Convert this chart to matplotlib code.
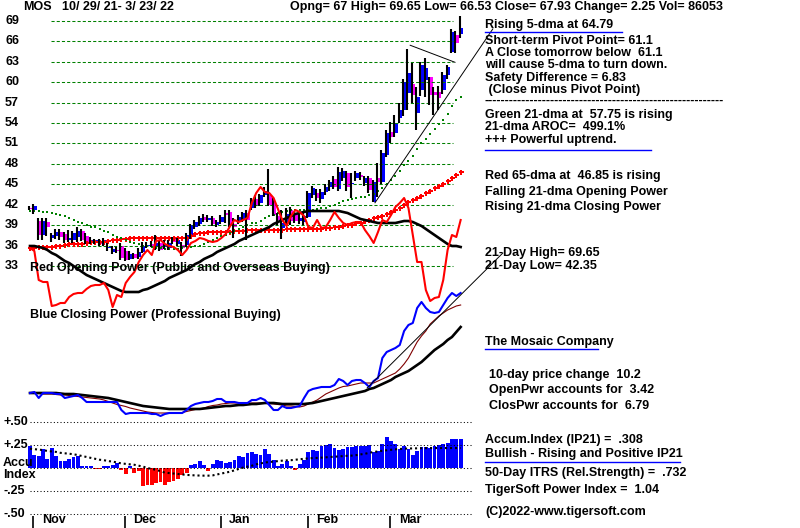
import matplotlib
matplotlib.use("Agg")
import matplotlib.pyplot as plt
import matplotlib.transforms as mtransforms
from matplotlib.lines import Line2D
import numpy as np

plt.rcParams['font.family'] = ['Liberation Sans', 'DejaVu Sans']
plt.rcParams['font.weight'] = 'bold'

# ---- daily bars 10/29/21 .. 3/23/22 (100 sessions) ----
opens = [41.6, 41.3, 39.7, 37.6, 39.5, 37.1, 37.4, 38.0, 37.7, 36.8,
         36.9, 37.3, 38.1, 37.5, 36.6, 36.7, 36.6, 36.4, 35.6, 35.1,
         35.4, 35.9, 35.3, 34.1, 34.8, 34.4, 35.1, 35.9, 36.3, 36.0,
         36.4, 35.8, 35.6, 37.0, 36.3, 36.1, 36.1, 37.3, 38.8, 39.2,
         40.2, 39.8, 40.1, 39.0, 39.5, 40.8, 41.0, 39.2, 39.6, 39.9,
         40.8, 41.5, 42.8, 42.2, 43.4, 43.4, 42.5, 40.3, 38.6, 39.5,
         41.3, 40.6, 39.6, 39.5, 40.2, 43.4, 43.8, 42.8, 43.9, 44.6,
         45.8, 44.3, 45.9, 46.7, 45.0, 46.0, 46.4, 45.2, 45.9, 42.4,
         45.9, 45.3, 49.3, 52.7, 52.5, 54.7, 55.9, 58.4, 59.7, 55.4,
         58.8, 60.3, 60.7, 58.5, 58.5, 58.8, 61.0, 64.4, 66.9, 67.0]
highs = [41.9, 42.1, 40.1, 40.1, 40.0, 37.9, 38.4, 38.5, 38.0, 38.3,
         38.2, 38.7, 38.4, 37.8, 37.3, 37.0, 37.0, 37.2, 36.4, 35.9,
         35.8, 36.4, 35.6, 35.2, 35.0, 35.6, 36.6, 36.6, 36.7, 37.6,
         36.7, 36.9, 36.8, 37.3, 37.1, 36.6, 37.8, 39.2, 39.8, 40.4,
         40.6, 40.5, 40.4, 39.8, 40.5, 41.2, 41.3, 40.0, 40.5, 41.0,
         41.2, 43.0, 43.5, 43.6, 44.6, 47.3, 43.0, 40.8, 41.2, 41.5,
         41.7, 41.0, 40.6, 40.8, 44.0, 44.8, 44.3, 44.3, 45.0, 45.6,
         46.3, 47.6, 47.4, 47.0, 46.6, 47.0, 46.8, 46.3, 46.3, 45.6,
         48.2, 50.0, 53.0, 54.1, 55.2, 56.9, 60.5, 64.8, 62.8, 59.3,
         63.0, 63.5, 60.8, 59.3, 59.4, 61.5, 62.5, 67.8, 67.5, 69.65]
lows = [41.2, 40.6, 36.9, 36.9, 37.5, 36.6, 37.0, 36.8, 36.4, 36.5,
        36.4, 36.5, 36.7, 36.2, 36.2, 36.3, 36.0, 35.9, 35.2, 34.8,
        34.9, 33.9, 33.7, 33.9, 34.0, 34.1, 34.9, 35.6, 35.8, 35.4,
        35.2, 35.5, 35.4, 36.2, 36.0, 34.5, 35.8, 37.0, 38.4, 38.9,
        39.5, 39.5, 38.9, 38.7, 39.2, 39.4, 38.8, 37.2, 39.2, 39.5,
        36.9, 41.2, 41.5, 41.9, 43.1, 41.8, 40.3, 39.0, 37.0, 39.2,
        39.0, 39.3, 39.2, 39.0, 40.0, 43.0, 42.6, 42.3, 43.5, 44.0,
        44.3, 44.0, 45.5, 44.1, 43.0, 45.5, 45.7, 44.8, 43.8, 42.35,
        43.1, 45.0, 49.0, 51.1, 52.0, 54.0, 55.0, 55.9, 56.9, 53.0,
        58.0, 57.8, 56.6, 55.2, 55.9, 58.3, 60.5, 64.3, 64.3, 66.53]
closes = [41.4, 41.8, 37.6, 39.6, 38.8, 37.6, 38.0, 37.3, 36.8, 37.2,
          37.8, 38.1, 36.9, 36.4, 36.9, 36.9, 36.3, 36.8, 35.8, 35.5,
          35.2, 34.2, 33.9, 34.8, 34.2, 35.1, 36.0, 36.1, 36.0, 36.4,
          35.4, 36.3, 36.4, 36.5, 36.8, 35.6, 37.6, 39.0, 39.5, 40.1,
          39.8, 40.1, 39.2, 39.5, 40.2, 40.5, 39.1, 38.8, 40.2, 40.8,
          39.8, 42.7, 42.0, 43.4, 44.1, 42.0, 40.5, 39.8, 39.3, 40.7,
          39.6, 39.7, 40.1, 40.3, 43.7, 44.4, 43.0, 43.9, 44.6, 45.3,
          44.6, 46.8, 47.0, 44.6, 45.2, 46.7, 46.1, 45.9, 44.2, 45.3,
          45.3, 49.6, 52.5, 51.9, 54.0, 55.9, 60.0, 61.3, 58.1, 57.8,
          62.5, 62.1, 58.1, 58.1, 57.7, 61.1, 62.2, 67.3, 65.68, 67.93]

# green 21-dma and red 65-dma of price
ma21 = [41.1, 41.1, 41.1, 41.0, 40.9, 40.8, 40.6, 40.5, 40.3, 40.1,
        39.8, 39.5, 39.3, 39.0, 38.8, 38.7, 38.4, 38.2, 38.0, 37.6,
        37.3, 37.1, 36.8, 36.6, 36.4, 36.2, 36.0, 35.9, 35.8, 35.7,
        35.6, 35.5, 35.5, 35.5, 35.5, 35.6, 35.7, 35.8, 35.9, 36.0,
        36.2, 36.5, 36.8, 37.1, 37.4, 37.6, 37.8, 38.1, 38.5, 38.8,
        39.0, 39.3, 39.4, 39.6, 40.0, 40.3, 40.5, 40.8, 41.0, 41.1,
        41.2, 41.2, 41.2, 41.2, 41.3, 41.3, 41.4, 41.5, 41.6, 41.8,
        42.0, 42.3, 42.5, 42.7, 42.8, 43.0, 43.1, 43.2, 43.4, 43.6,
        44.0, 44.5, 45.0, 45.6, 46.3, 47.0, 47.8, 48.4, 49.1, 50.2,
        51.0, 51.7, 52.4, 53.1, 53.8, 54.5, 55.3, 56.5, 57.3, 57.75]
ma65 = [35.7, 35.7, 35.8, 35.8, 35.8, 35.8, 35.9, 35.9, 36.1, 36.2,
        36.2, 36.3, 36.3, 36.4, 36.5, 36.5, 36.6, 36.6, 36.7, 36.8,
        36.9, 37.0, 37.0, 37.1, 37.1, 37.1, 37.1, 37.2, 37.2, 37.2,
        37.2, 37.2, 37.2, 37.2, 37.2, 37.2, 37.2, 37.5, 37.7, 37.8,
        37.9, 38.0, 38.0, 38.0, 38.0, 38.0, 38.0, 38.1, 38.2, 38.2,
        38.3, 38.3, 38.3, 38.3, 38.3, 38.3, 38.3, 38.3, 38.3, 38.4,
        38.4, 38.4, 38.4, 38.4, 38.4, 38.5, 38.5, 38.5, 38.6, 38.6,
        38.7, 38.8, 38.9, 39.0, 39.1, 39.3, 39.4, 39.6, 39.8, 40.0,
        40.2, 40.4, 40.7, 41.0, 41.3, 41.6, 42.0, 42.4, 42.7, 43.0,
        43.3, 43.7, 44.0, 44.4, 44.8, 45.1, 45.5, 45.9, 46.4, 46.85]

# Opening Power (red) and its 21-dma (black), Closing Power (blue) and its averages
open_pwr = [172, 169, 140, 138, 138, 114, 115, 117, 117, 123,
            126, 127, 127, 131, 134, 135, 135, 137, 130, 113,
            125, 123, 137, 143, 148, 158, 165, 170, 165, 179,
            180, 176, 174, 173, 170, 165, 170, 177, 179, 182,
            181, 179, 178, 179, 182, 186, 194, 200, 198, 200,
            202, 217, 227, 233, 228, 227, 222, 211, 200, 194,
            204, 210, 208, 204, 193, 192, 200, 192, 193, 200,
            208, 202, 197, 195, 197, 198, 198, 190, 184, 177,
            188, 200, 198, 205, 213, 217, 222, 212, 185, 158,
            158, 130, 119, 122, 123, 140, 170, 185, 183, 200]
open_pwr_ma = [174, 174, 173, 172, 170, 167, 165, 162, 159, 157,
               154, 151, 148, 145, 143, 141, 139, 137, 135, 133,
               131, 129, 128, 128, 128, 128, 130, 131, 133, 135,
               137, 139, 142, 144, 146, 148, 150, 153, 156, 158,
               161, 163, 165, 168, 170, 172, 174, 176, 179, 181,
               183, 185, 187, 189, 191, 193, 196, 198, 200, 202,
               204, 206, 207, 208, 209, 209, 209, 209, 209, 209,
               209, 209, 208, 207, 205, 203, 201, 200, 199, 198,
               197, 197, 197, 197, 197, 198, 199, 199, 198, 196,
               194, 191, 188, 185, 182, 179, 176, 174, 174, 173]
clos_pwr = [27, 28, 22, 27, 27, 27, 26, 26, 22, 23,
            24, 25, 22, 18, 18, 18, 18, 18, 18, 18,
            18, 10, 6, 7, 7, 7, 7, 7, 6, 6,
            4, 6, 7, 7, 7, 7, 10, 14, 16, 17,
            18, 18, 19, 21, 21, 18, 18, 18, 17, 17,
            17, 20, 20, 22, 20, 15, 10, 10, 14, 12,
            12, 13, 14, 22, 29, 31, 32, 33, 33, 33,
            35, 41, 39, 35, 39, 40, 40, 37, 33, 39,
            42, 62, 68, 70, 72, 75, 89, 95, 97, 112,
            118, 112, 108, 107, 108, 115, 122, 127, 124, 127]
clos_pwr_ma = [27, 27, 27, 27, 27, 27, 27, 26.5, 26, 26,
               26, 25.5, 25, 24.5, 24, 23.5, 23, 22.5, 22, 21,
               20, 19, 18, 17, 16, 15, 14, 13.5, 13, 12.5,
               12, 11.5, 11, 11, 11, 11, 11, 11, 11, 11,
               11.5, 12, 12.5, 13, 13.5, 14, 14, 14.5, 15, 15,
               15.5, 16, 16, 16.5, 17, 17, 17, 16.5, 16, 16,
               16, 16, 16, 16, 16.5, 17, 18, 19, 20, 21,
               22, 23, 24, 25, 26, 27, 28, 29, 31, 32,
               34, 36, 38, 40, 43, 45, 47, 49, 52, 55,
               58, 62, 66, 70, 73, 76, 80, 83, 88, 93]
clos_pwr_ma2 = [27, 27, 26.5, 26, 26, 26, 25.5, 25, 25, 24.5,
                24, 23.5, 23, 22.5, 22, 21.5, 21, 20, 18.5, 17,
                15.5, 14.5, 13.5, 12, 11, 10, 9, 8, 7.5, 7,
                7, 7, 7, 7, 7, 7.5, 8.5, 9.5, 10.5, 11,
                12, 13.5, 14.5, 15, 16, 16.5, 17, 17, 17, 17,
                17, 17, 17, 17, 17, 16.5, 16, 15.5, 15, 14,
                14, 13.5, 13, 14, 16, 18, 20, 23, 26, 28,
                30, 32, 33.5, 34, 35, 36, 37, 37, 37, 37,
                39, 41, 43, 45, 47, 51, 56, 62, 70, 78,
                84, 89, 96, 100, 104, 107, 110, 112, 114, 115]

# Accumulation Index (IP21) and its moving average
accum = [0.243, 0.145, 0.134, 0.207, 0.10, 0.217, 0.127, 0.08, 0.072, 0.10,
         0.12, 0.134, 0.025, 0.025, 0.018, -0.011, -0.011, 0.025, 0.025, 0.036,
         0.054, -0.018, -0.062, 0.025, -0.054, -0.036, -0.2, -0.19, -0.18, -0.163,
         -0.156, -0.19, -0.152, -0.138, -0.12, -0.072, -0.054, 0.036, 0.043, 0.072,
         0.036, -0.036, 0.047, 0.09, 0.08, 0.054, 0.062, 0.083, 0.127, 0.12,
         0.163, 0.174, 0.156, 0.145, 0.207, 0.156, 0.083, 0.018, 0.043, 0.072,
         0.018, -0.018, 0.047, 0.09, 0.17, 0.192, 0.181, 0.243, 0.254, 0.26,
         0.217, 0.192, 0.207, 0.225, 0.225, 0.236, 0.243, 0.243, 0.254, 0.174,
         0.188, 0.26, 0.337, 0.29, 0.26, 0.207, 0.243, 0.207, 0.145, 0.181,
         0.228, 0.228, 0.217, 0.236, 0.254, 0.264, 0.272, 0.315, 0.315, 0.32]
accum_ma = [0.21, 0.205, 0.20, 0.195, 0.185, 0.18, 0.175, 0.165, 0.16, 0.155,
            0.15, 0.14, 0.13, 0.12, 0.11, 0.10, 0.09, 0.085, 0.075, 0.07,
            0.06, 0.05, 0.045, 0.04, 0.035, 0.025, 0.015, 0.0, -0.01, -0.02,
            -0.035, -0.05, -0.055, -0.06, -0.065, -0.07, -0.075, -0.078, -0.08, -0.082,
            -0.083, -0.083, -0.08, -0.07, -0.06, -0.05, -0.04, -0.025, -0.01, 0.005,
            0.015, 0.025, 0.04, 0.05, 0.06, 0.065, 0.07, 0.075, 0.08, 0.083,
            0.085, 0.09, 0.095, 0.10, 0.105, 0.108, 0.11, 0.113, 0.116, 0.12,
            0.123, 0.126, 0.13, 0.133, 0.135, 0.14, 0.148, 0.155, 0.165, 0.175,
            0.18, 0.188, 0.193, 0.198, 0.203, 0.207, 0.21, 0.212, 0.213, 0.214,
            0.215, 0.216, 0.217, 0.217, 0.217, 0.217, 0.217, 0.217, 0.217, 0.217]

# trend lines (bar index, value)
price_up_line = [(79.3, 42.3), (106.4, 67.8)]
price_down_line = [(87.4, 65.4), (97.7, 62.9)]
cp_line = [(77.5, 32), (108.7, 167)]

price_levels = [33, 36, 39, 42, 45, 48, 51, 54, 57, 60, 63, 66, 69]
ai_levels = [0.5, 0.25, 0.0, -0.25, -0.5]
ai_labels = {0.5: "+.50", 0.25: "+.25", -0.25: "-.25", -0.5: "-.50"}
month_names = ["Nov", "Dec", "Jan", "Feb", "Mar"]
month_starts = [1, 22, 44, 64, 83]

n = len(closes)
idx = np.arange(n)
XLIM = (-30 / 4.35, 770 / 4.35)

fig = plt.figure(figsize=(8, 5.28), dpi=100)
ax = fig.add_axes([0, 0, 1, 1])
ax.set_xlim(*XLIM)
ax.set_ylim(-5.385, 72.035)
ax.axis('off')

# price grid
ax.hlines(price_levels, 4.8, 97.2, colors='#008000', lw=0.75, linestyles=(0, (3, 2)))

# moving averages of price
ax.plot(idx, ma65, ls='none', marker='P', ms=3.6, color='#ff0000', mew=0)
ax.plot(idx, ma21, ls='none', marker='s', ms=1.75, color='#008000', mew=0)

# candles
ax.vlines(idx - 0.25, lows, highs, colors='black', lw=1.5)
o = np.array(opens)
c = np.array(closes)
up = c >= o
body = np.maximum(np.abs(c - o), 0.18)
ax.bar(idx + 0.12, body, bottom=np.minimum(o, c), width=0.85,
       color=np.where(up, '#0000ff', '#ff00ff'), linewidth=0)

(x1, y1), (x2, y2) = price_up_line
ax.plot([x1, x2], [y1, y2], color='black', lw=0.7)
(x1, y1), (x2, y2) = price_down_line
ax.plot([x1, x2], [y1, y2], color='black', lw=0.7)

# power lines
axp = fig.add_axes([0, 0, 1, 1])
axp.set_xlim(*XLIM)
axp.set_ylim(-108, 420)
axp.axis('off')
axp.patch.set_alpha(0)
axp.plot(idx, open_pwr_ma, color='black', lw=1.9)
axp.plot(idx, open_pwr, color='#ff0000', lw=1.5)
axp.plot(idx, clos_pwr_ma2, color='#800000', lw=0.8)
axp.plot(idx, clos_pwr_ma, color='black', lw=1.9)
axp.plot(idx, clos_pwr, color='#0000ff', lw=1.5)
(x1, y1), (x2, y2) = cp_line
axp.plot([x1, x2], [y1, y2], color='black', lw=0.7)

# accumulation index panel
axa = fig.add_axes([0, 0, 1, 1])
axa.set_xlim(*XLIM)
axa.set_ylim(-0.652, 5.087)
axa.axis('off')
axa.patch.set_alpha(0)
axa.hlines(ai_levels, 0, 101.6, colors='black', lw=0.75, linestyles=(0, (1, 2.2)))
acc = np.array(accum)
axa.bar(idx, acc, width=0.88, color=np.where(acc >= 0, '#0000ff', '#ff0000'), linewidth=0)
axa.plot(idx, accum_ma, color='black', lw=1.5, ls=(0, (1, 1.4)))

# month ticks
for m, s in zip(month_names, month_starts):
    axa.vlines(s - 0.2, -0.652, -0.52, colors='black', lw=1.2)
    axa.text(s + 1.75, -0.565, m, fontsize=9, va='center', ha='left')

# axis labels
tr_p = mtransforms.blended_transform_factory(fig.transFigure, ax.transData)
for lv in price_levels:
    ax.text(5 / 800, lv, str(lv), transform=tr_p, fontsize=9, va='center', ha='left')
tr_a = mtransforms.blended_transform_factory(fig.transFigure, axa.transData)
for lv, lab in ai_labels.items():
    axa.text(3 / 800, lv, lab, transform=tr_a, fontsize=9, va='center', ha='left')
axa.text(3 / 800, 0.055, "Accu", transform=tr_a, fontsize=9, va='center', ha='left')
axa.text(3 / 800, -0.075, "Index", transform=tr_a, fontsize=9, va='center', ha='left')


def ftext(x, y, s, **kw):
    kw.setdefault('fontsize', 9)
    fig.text(x / 800, 1 - y / 528, s, va='center', ha='left', **kw)


def fline(x1, x2, y, color='#0000ff'):
    fig.add_artist(Line2D([x1 / 800, x2 / 800], [1 - y / 528] * 2, color=color, lw=1))


ftext(23, 7, "MOS")
ftext(62, 7, "10/ 29/ 21- 3/ 23/ 22")
ftext(290, 7, "Opng= 67 High= 69.65 Low= 66.53 Close= 67.93 Change= 2.25 Vol= 86053")

ftext(30, 268, "Red Opening Power (Public and Overseas Buying)")
ftext(30, 315, "Blue Closing Power (Professional Buying)")

ftext(485, 25, "Rising 5-dma at 64.79")
fline(485, 622, 32)
ftext(485, 41, "Short-term Pivot Point= 61.1")
ftext(485, 53, "A Close tomorrow below  61.1")
ftext(485, 65, "will cause 5-dma to turn down.")
ftext(485, 78, "Safety Difference = 6.83")
ftext(485, 90, " (Close minus Pivot Point)")
ftext(485, 101, "-" * 58)
ftext(485, 115, "Green 21-dma at  57.75 is rising")
ftext(485, 127, "21-dma AROC=  499.1%")
ftext(485, 140, "+++ Powerful uptrend.")
fline(485, 651, 150)
ftext(485, 176, "Red 65-dma at  46.85 is rising")
ftext(485, 192, "Falling 21-dma Opening Power")
ftext(485, 207, "Rising 21-dma Closing Power")
ftext(485, 253, "21-Day High= 69.65")
ftext(485, 266, "21-Day Low= 42.35")

ftext(485, 342, "The Mosaic Company")
fline(485, 598, 349)
ftext(489, 375, "10-day price change  10.2")
ftext(489, 390, "OpenPwr accounts for  3.42")
ftext(489, 406, "ClosPwr accounts for  6.79")
ftext(485, 440, "Accum.Index (IP21) =  .308")
ftext(485, 454, "Bullish - Rising and Positive IP21")
fline(485, 680, 462)
ftext(485, 473, "50-Day ITRS (Rel.Strength) =  .732")
ftext(485, 490, "TigerSoft Power Index =  1.04")
ftext(485, 512, "(C)2022-www.tigersoft.com")

fig.savefig("out.png", dpi=100)
